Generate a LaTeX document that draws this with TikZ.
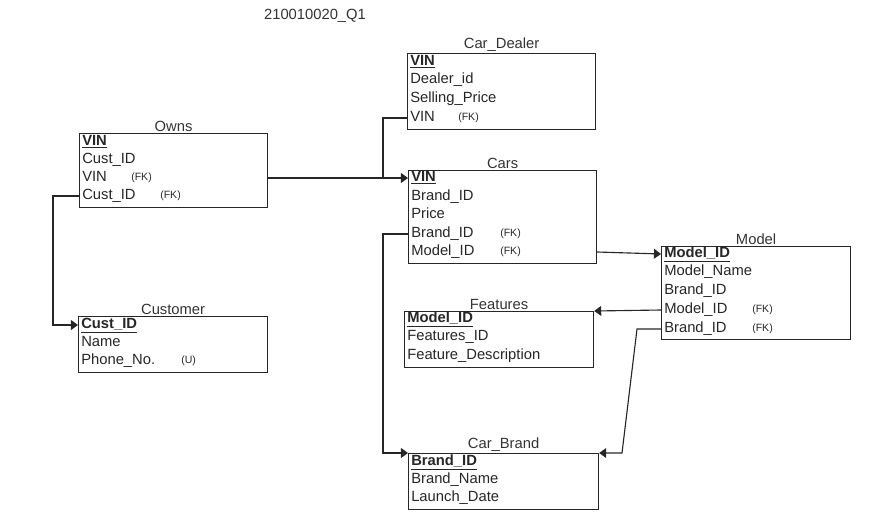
\documentclass[tikz,border=0pt]{standalone}
\usepackage{fontspec}
\setmainfont{Liberation Sans}
\usetikzlibrary{positioning, calc, arrows.meta}

\begin{document}
\begin{tikzpicture}[x=0.025cm, y=-0.025cm]
        \tikzstyle{table}=[draw=black!85, line width=0.8pt, rectangle, anchor=north west, inner sep=0];
        \tikzstyle{row}=[anchor=west, inner sep=0, text height=7.8pt, text depth=2.6pt, text=black!85, font=\fontsize{10.5}{12}\selectfont];
        \tikzstyle{fk}=[anchor=west, inner sep=0, text height=5.8pt, text depth=1.8pt, text=black!85, font=\fontsize{7.5}{9}\selectfont];
        \tikzstyle{title}=[anchor=south, inner sep=1pt, text=black!80, font=\fontsize{10.5}{12}\selectfont];
        \tikzstyle{link}=[line width=0.8pt, draw=black!85];
        \tikzstyle{tip}=[-{Triangle[length=5pt, width=7pt]}];

        \useasboundingbox (0,0) rectangle (886,520);

        \node[text=black!80, font=\fontsize{10.5}{12}\selectfont] (q) at (315,16) {210010020\_Q1};

        % tables
        \node[table, minimum width=4.7cm, minimum height=1.85cm] (owns) at (79,133) {};
        \node[table, minimum width=4.7cm, minimum height=1.9cm] (dealer) at (407,53) {};
        \node[table, minimum width=4.7cm, minimum height=2.325cm] (cars) at (408,170) {};
        \node[table, minimum width=4.725cm, minimum height=2.325cm] (model) at (661,246) {};
        \node[table, minimum width=4.725cm, minimum height=1.4cm] (features) at (404,311) {};
        \node[table, minimum width=4.725cm, minimum height=1.4cm] (customer) at (78,316) {};
        \node[table, minimum width=4.75cm, minimum height=1.4cm] (brand) at (408,453) {};

        \node[title] at (owns.north) {Owns};
        \node[title] at (dealer.north) {Car\_Dealer};
        \node[title] at (cars.north) {Cars};
        \node[title] at (model.north) {Model};
        \node[title] at (features.north) {Features};
        \node[title] at (customer.north) {Customer};
        \node[title] at (brand.north) {Car\_Brand};

        % Owns
        \node[row] (ownsvin) at (82,142) {\textbf{\underline{VIN}}};
        \node[row] (ownscust) at (82,160) {Cust\_ID};
        \node[row] (ownsvinfk) at (82,178) {VIN};
        \node[row] (ownscustfk) at (82,196) {Cust\_ID};
        \node[fk] at (131,178) {(FK)};
        \node[fk] at (160,196) {(FK)};

        % Car_Dealer
        \node[row] (dealervin) at (410,62) {\textbf{\underline{VIN}}};
        \node[row] (dealerid) at (410,80) {Dealer\_id};
        \node[row] (dealerprice) at (410,99) {Selling\_Price};
        \node[row] (dealervinfk) at (410,118) {VIN};
        \node[fk] at (458,118) {(FK)};

        % Cars
        \node[row] (carsvin) at (411,178) {\textbf{\underline{VIN}}};
        \node[row] (carsbrand) at (411,197) {Brand\_ID};
        \node[row] (carsprice) at (411,215) {Price};
        \node[row] (carsbrandfk) at (411,234) {Brand\_ID};
        \node[row] (carsmodelfk) at (411,252) {Model\_ID};
        \node[fk] at (500,234) {(FK)};
        \node[fk] at (500,252) {(FK)};

        % Model
        \node[row] (modelid) at (664,254) {\textbf{\underline{Model\_ID}}};
        \node[row] (modelname) at (664,272) {Model\_Name};
        \node[row] (modelbrand) at (664,291) {Brand\_ID};
        \node[row] (modelidfk) at (664,310) {Model\_ID};
        \node[row] (modelbrandfk) at (664,329) {Brand\_ID};
        \node[fk] at (752,310) {(FK)};
        \node[fk] at (752,329) {(FK)};

        % Features
        \node[row] (featmodel) at (407,319) {\textbf{\underline{Model\_ID}}};
        \node[row] (featid) at (407,337) {Features\_ID};
        \node[row] (featdesc) at (407,356) {Feature\_Description};

        % Customer
        \node[row] (custid) at (81,325) {\textbf{\underline{Cust\_ID}}};
        \node[row] (custname) at (81,343) {Name};
        \node[row] (custphone) at (81,361) {Phone\_No.};
        \node[fk] at (181,361) {(U)};

        % Car_Brand
        \node[row] (brandid) at (411,462) {\textbf{\underline{Brand\_ID}}};
        \node[row] (brandname) at (411,480) {Brand\_Name};
        \node[row] (branddate) at (411,498) {Launch\_Date};

        % connectors
        \coordinate (j1) at (383,178);
        \coordinate (j2) at (53,196);
        \coordinate (j3) at (383,234);
        \coordinate (j4) at (637,329);
        \coordinate (j5) at (622,453);

        \draw[link, tip] (owns.east |- ownsvinfk) -- (cars.west |- carsvin);
        \draw[link] (dealer.west |- dealervinfk) -| (j1);
        \draw[link, tip] (owns.west |- ownscustfk) -- (j2) |- (customer.west |- custid);
        \draw[link, tip] (cars.west |- carsbrandfk) -- (j3) |- (brand.north west);
        \draw[link, tip] (cars.east |- carsmodelfk) -- (model.west |- modelid);
        \draw[link, tip] (model.west |- modelidfk) -- (features.north east);
        \draw[link, tip] (model.west |- modelbrandfk) -- (j4) -- (j5) -- (brand.north east);
    \end{tikzpicture}
\end{document}
